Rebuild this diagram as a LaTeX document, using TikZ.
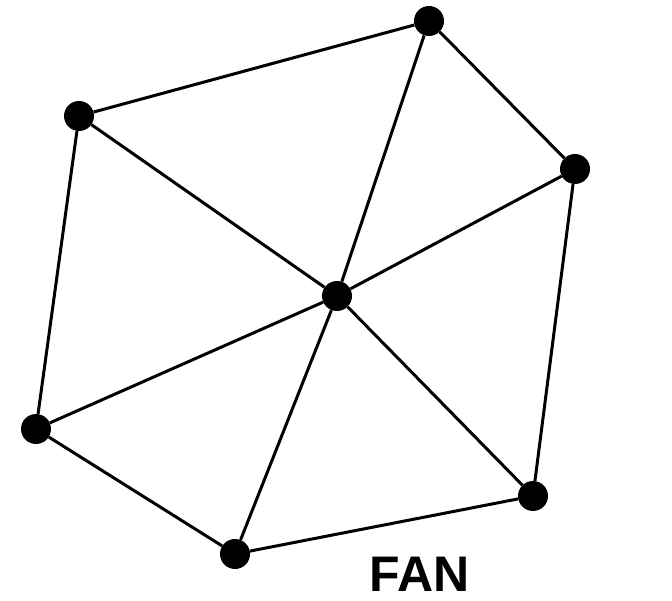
\documentclass[tikz,border=0pt]{standalone}
\usepackage{fontspec}
\setmainfont{Liberation Sans}
\begin{document}
\begin{tikzpicture}[x=1pt,y=-1pt,
  vertex/.style={circle,fill=black,draw=none,minimum size=30pt,inner sep=0pt},
  edge/.style={line width=3pt,black}]
\useasboundingbox (0,0) rectangle (672,601);
\node[vertex] (ul) at (79,116) {};
\node[vertex] (t) at (429,21) {};
\node[vertex] (r) at (575,169) {};
\node[vertex] (c) at (337,296) {};
\node[vertex] (l) at (36,429) {};
\node[vertex] (b) at (235,554) {};
\node[vertex] (br) at (533,496) {};
\draw[edge] (ul) -- (t) -- (r) -- (br) -- (b) -- (l) -- (ul);
\foreach \v in {ul,t,r,br,b,l} \draw[edge] (c) -- (\v);
\node[anchor=base,font=\fontsize{50}{50}\selectfont\bfseries,inner sep=0pt] (lab) at (419.5,591) {FAN};
\end{tikzpicture}
\end{document}
